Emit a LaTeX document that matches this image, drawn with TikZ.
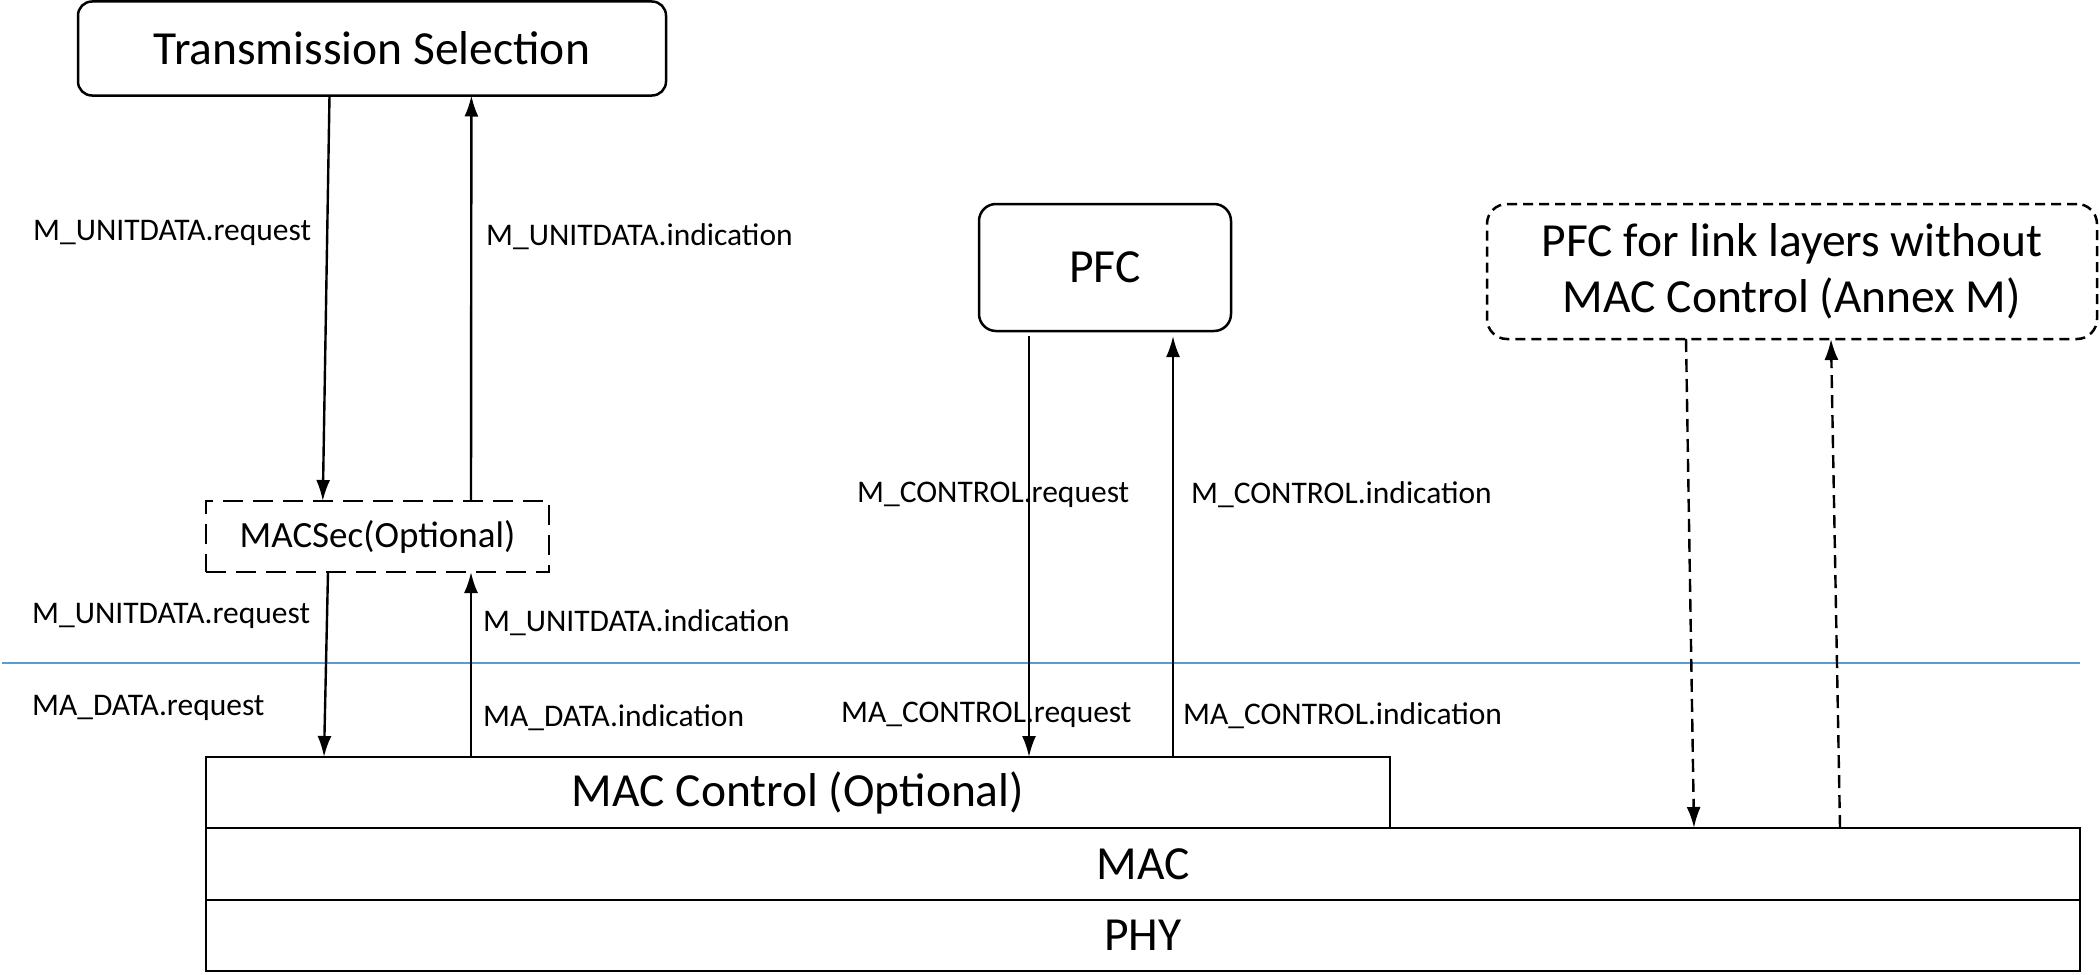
\documentclass[tikz,border=0pt]{standalone}
\usepackage{fontspec}
\setmainfont{Carlito}
\usetikzlibrary{arrows.meta,calc}
\definecolor{sepblue}{HTML}{5B9BD5}
\newcommand\bigtxt{\fontsize{47.5}{56}\selectfont}
\newcommand\midtxt{\fontsize{37}{44}\selectfont}
\newcommand\lbltxt{\fontsize{31.5}{38}\selectfont}
\begin{document}
\begin{tikzpicture}[x=1pt,y=-1pt,
  box/.style={draw, line width=2.5pt, outer sep=0pt, inner sep=0pt, font=\bigtxt},
  rbox/.style={box, rounded corners=14pt},
  layer/.style={draw, line width=2.8pt, outer sep=0pt, inner sep=0pt, font=\bigtxt},
  lbl/.style={anchor=west, inner sep=0pt, font=\lbltxt},
  arr/.style={line width=2.4pt, -{Latex[length=21pt,width=14pt]}},
  darr/.style={arr, dash pattern=on 13pt off 7pt}]
\useasboundingbox (0,0) rectangle (2100,974);

% upper entities
\node[rbox, minimum width=588pt, minimum height=94pt] (ts) at (372,48.5) {Transmission Selection};
\node[box, dash pattern=on 20pt off 10pt, font=\midtxt, minimum width=343pt, minimum height=71pt] (msec) at (377.5,536.5) {MACSec(Optional)};
\node[rbox, rounded corners=17pt, minimum width=252pt, minimum height=127pt] (pfc) at (1105,267.5) {PFC};
\node[rbox, rounded corners=20pt, dash pattern=on 10pt off 6pt, align=center, minimum width=610pt, minimum height=135pt] (pfcm) at (1792,271.5) {PFC for link layers without\\MAC Control (Annex M)};

% layer stack
\node[layer, minimum width=1184pt, minimum height=71pt] (macc) at (798,792.5) {MAC Control (Optional)};
\node[layer, minimum width=1874pt, minimum height=72pt] (mac) at (1143,864) {MAC};
\node[layer, minimum width=1874pt, minimum height=71pt] (phy) at (1143,935.5) {PHY};

% separator
\coordinate (sepL) at (2,663);
\coordinate (sepR) at (2080,663);
\draw[sepblue, line width=1.5pt] (sepL) -- (sepR);

% primitive labels
\node[lbl] (l1) at (33,233) {M\_UNITDATA.request};
\node[lbl] (l2) at (486,237) {M\_UNITDATA.indication};
\node[lbl] (l3) at (32,616) {M\_UNITDATA.request};
\node[lbl] (l4) at (483,623) {M\_UNITDATA.indication};
\node[lbl] (l5) at (32,708) {MA\_DATA.request};
\node[lbl] (l6) at (483,718) {MA\_DATA.indication};
\node[lbl] (l7) at (857,495) {M\_CONTROL.request};
\node[lbl] (l8) at (1191,495) {M\_CONTROL.indication};
\node[lbl] (l9) at (841,715) {MA\_CONTROL.request};
\node[lbl] (l10) at (1183,716) {MA\_CONTROL.indication};

% data path
\draw[arr] ([xshift=251.5pt]ts.south west) -- ([xshift=116.8pt]msec.north west);
\draw[arr] ([xshift=265pt]msec.north west) -- ([xshift=393.4pt]ts.south west);
\draw[arr] ([xshift=122pt]msec.south west) -- ([xshift=118pt]macc.north west);
\draw[arr] ([xshift=265pt]macc.north west) -- ([xshift=265pt]msec.south west);

% control path
\draw[arr] ([xshift=50pt,yshift=-5pt]pfc.south west) -- ([xshift=823pt]macc.north west);
\draw[arr] ([xshift=967pt]macc.north west) -- ([xshift=194pt,yshift=-5pt]pfc.south west);

% control path without MAC Control
\draw[darr] ([xshift=199pt]pfcm.south west) -- ([xshift=1488pt]mac.north west);
\draw[darr] ([xshift=1634pt]mac.north west) -- ([xshift=344pt]pfcm.south west);
\end{tikzpicture}
\end{document}
